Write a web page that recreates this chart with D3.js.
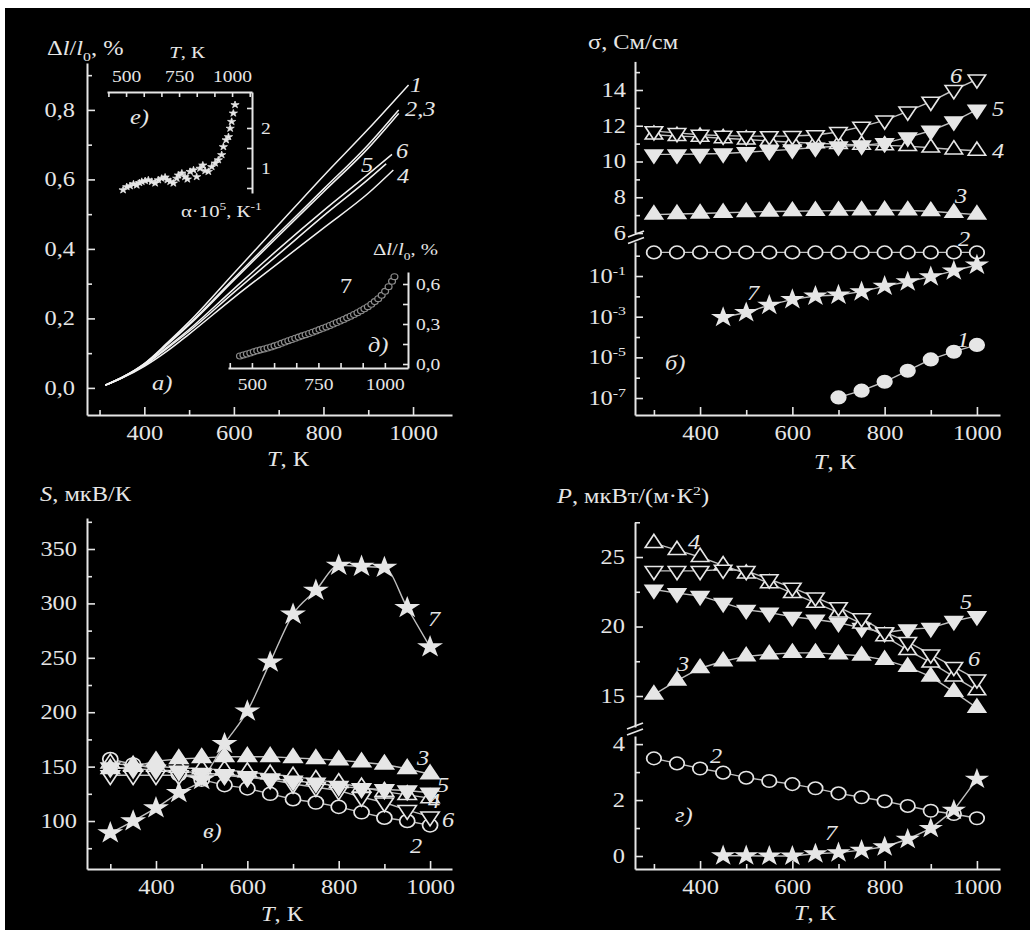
<!DOCTYPE html>
<html><head><meta charset="utf-8">
<script src="https://cdn.jsdelivr.net/npm/d3@7"></script>
<style>html,body{margin:0;padding:0;background:#fff;}svg{display:block;}</style>
</head><body>
<script>
// ---------------- DATA ----------------
const T = [300,350,400,450,500,550,600,650,700,750,800,850,900,950,1000];
const T7 = [450,500,550,600,650,700,750,800,850,900,950,1000];
const T1 = [700,750,800,850,900,950,1000];

// panel a) dilatometric curves  Δl/l0, %
const a1T = [313,350,400,450,500,600,700,800,900,990];
const a1V = [0.008,0.03,0.07,0.128,0.19,0.33,0.47,0.61,0.745,0.872];
const a2T = [313,350,400,450,500,600,700,800,900,968];
const a2V = [0.008,0.03,0.069,0.125,0.184,0.315,0.445,0.572,0.7,0.80];
const a3V = [0.008,0.03,0.068,0.123,0.181,0.31,0.438,0.564,0.69,0.79];
const a6T = [313,350,400,450,500,600,700,800,900,953];
const a6V = [0.008,0.029,0.066,0.116,0.168,0.285,0.4,0.51,0.615,0.672];
const a5T = [313,350,400,450,500,600,700,800,900,940];
const a5V = [0.008,0.029,0.065,0.113,0.163,0.275,0.385,0.495,0.6,0.645];
const a4T = [313,350,400,450,500,600,700,800,900,956];
const a4V = [0.008,0.028,0.062,0.105,0.155,0.26,0.36,0.46,0.56,0.627];

// inset e) alpha*10^5
const eT = [486,503,519,535,550,563,574,590,605,621,637,652,668,684,695,708,723,739,747,763,778,789,802,818,833,849,862,873,888,904,920,935,951,959,972,983,991,998,1006,1014];
const eA = [0.45,0.53,0.55,0.60,0.57,0.63,0.66,0.68,0.70,0.66,0.62,0.70,0.74,0.77,0.70,0.66,0.62,0.74,0.82,0.87,0.78,0.72,0.91,0.95,0.78,0.99,1.07,0.93,0.91,1.03,1.12,1.20,1.33,1.53,1.70,1.78,1.99,2.16,2.37,2.58];

// inset д) sample 7 dilatometry
const dT = [455,468,481,494,507,520,533,546,559,572,585,598,611,624,637,650,663,676,689,702,715,728,741,754,767,780,793,806,819,832,845,858,871,884,897,910,923,936,949,962,975,988,1001,1014,1027,1036];
const dV = [0.060,0.068,0.075,0.083,0.092,0.099,0.106,0.113,0.120,0.128,0.136,0.145,0.155,0.165,0.175,0.184,0.193,0.202,0.211,0.220,0.229,0.238,0.248,0.258,0.268,0.278,0.289,0.300,0.311,0.322,0.334,0.346,0.358,0.371,0.385,0.399,0.414,0.430,0.448,0.468,0.490,0.515,0.545,0.580,0.620,0.655];

// panel б) conductivity σ, См/см
const sig1 = [1.07e-7,2.3e-7,6.3e-7,2.2e-6,7.9e-6,1.9e-5,4.1e-5];
const sig2 = [1.45,1.45,1.45,1.45,1.45,1.45,1.45,1.45,1.45,1.45,1.45,1.45,1.45,1.45,1.45];
const sig3 = [7.03,7.06,7.09,7.13,7.17,7.2,7.22,7.24,7.25,7.26,7.27,7.26,7.22,7.12,7.03];
const sig4 = [11.5,11.42,11.38,11.3,11.23,11.15,11.08,11.02,10.97,10.93,10.9,10.86,10.77,10.67,10.6];
const sig5 = [10.4,10.4,10.42,10.45,10.52,10.6,10.68,10.78,10.85,10.9,11.03,11.35,11.72,12.25,12.9];
const sig6 = [11.7,11.6,11.5,11.45,11.42,11.42,11.43,11.48,11.65,11.95,12.3,12.8,13.35,14.0,14.6];
const sig7 = [9.3e-4,1.6e-3,3.7e-3,7.1e-3,1.04e-2,1.17e-2,1.7e-2,3.2e-2,5.2e-2,9.3e-2,0.18,0.35];

// panel в) Seebeck S, мкВ/К
const S2 = [157,152,148,143,138,133,130,125,120,117,113,108,103,100,96];
const S3 = [148,150,155,157,158,159,159,159,158,157,156,154,152,148,143];
const S4 = [153,151,150,149,148,147,145,143,141,138,135,131,127,124,121];
const S5 = [149,148,147,146,144,143,141,139,137,135,132,130,129,128,126];
const S6 = [142,142,142,142,142,142,140,138,134,131,128,122,117,110,104];
const S7 = [89,100,112,126,138,171,201,246,290,312,335,334,333,296,260];

// panel г) power factor P, мкВт/(м·К²)
const P2 = [3.49,3.31,3.13,2.98,2.8,2.68,2.57,2.42,2.24,2.1,1.96,1.79,1.62,1.5,1.35];
const P3 = [15.1,16.1,17.0,17.5,17.85,18.0,18.1,18.1,18.0,17.9,17.6,17.1,16.4,15.3,14.15];
const P4 = [26.0,25.5,25.0,24.4,23.8,23.1,22.4,21.7,21.0,20.2,19.3,18.3,17.4,16.4,15.4];
const P5 = [22.66,22.4,22.2,21.7,21.2,21.0,20.7,20.5,20.27,19.9,19.55,19.8,19.9,20.4,20.75];
const P6 = [24.0,24.0,24.0,24.1,24.0,23.4,22.8,22.1,21.4,20.6,19.6,18.9,18.0,17.1,16.2];
const P7 = [0.01,0.01,0.0,0.0,0.08,0.12,0.21,0.33,0.6,0.99,1.64,2.75];

// tick values
const xMajor = [400,600,800,1000], xMinor = [300,500,700,900];
const aYMajor = [0,0.2,0.4,0.6,0.8], aYMinor = [0.1,0.3,0.5,0.7,0.9];
const insetXMajor = [500,750,1000], insetXMinor = [416.67,583.33,666.67,833.33,916.67,1083.33];
const eYMajor = [1,2], eYMinor = [0.5,1.5,2.5];
const dYMajor = [0,0.3,0.6], dYMinor = [0.15,0.45];
const bUMajor = [6,8,10,12,14], bUMinor = [7,9,11,13,15];
const bLMajor = [1e-1,1e-3,1e-5,1e-7], bLMinor = [1,1e-2,1e-4,1e-6];
const cYMajor = [100,150,200,250,300,350], cYMinor = [75,125,175,225,275,325,375];
const gUMajor = [15,20,25], gUMinor = [17.5,22.5,27.5];
const gLMajor = [0,2,4], gLMinor = [1,3];

// ---------------- DRAWING ----------------
const W = 1030, H = 933;
const FG = "#e6e6e6", LN = "#c0c0c0";
const SERIF = "'Liberation Serif','Times New Roman',serif";
const SX = 1.22, MSX = 1.15;

const svg = d3.select("body").append("svg").attr("width", W).attr("height", H);
svg.append("rect").attr("width", W).attr("height", H).attr("fill", "#fff");
svg.append("rect").attr("x", 5).attr("y", 8).attr("width", 1025).attr("height", 922).attr("fill", "#000");

function rich(t, parts, size) {
  let shift = 0;
  parts.forEach(p => {
    const s = typeof p === "string" ? p : p[0];
    const st = typeof p === "string" ? "" : p[1];
    const ts = t.append("tspan").text(s);
    let target = 0;
    if (st.includes("sub")) { target = size * 0.28; ts.attr("font-size", size * 0.65); }
    if (st.includes("sup")) { target = -size * 0.42; ts.attr("font-size", size * 0.65); }
    if (st.includes("i")) ts.attr("font-style", "italic");
    if (target - shift !== 0) ts.attr("dy", target - shift);
    shift = target;
  });
}
function label(x, y, parts, opt = {}) {
  const size = opt.size || 20;
  const t = svg.append("text")
    .attr("transform", `translate(${x},${y}) scale(${SX},1)`)
    .attr("font-family", SERIF).attr("font-size", size).attr("fill", FG)
    .attr("text-anchor", opt.anchor || "start");
  if (opt.italic) t.attr("font-style", "italic");
  rich(t, typeof parts === "string" ? [parts] : parts, size);
  return t;
}
const fmtInt = d3.format("d");
const fmtC1 = d => d3.format(".1f")(d).replace(".", ",");

function drawAxis(o) {
  const size = o.size || 20, tick = o.tick || 8, mtick = o.mtick || 5;
  const pad = o.vertical ? (o.pad || 10) / SX : (o.pad || 11);
  const g = svg.append("g").attr("transform", `translate(${o.at[0]},${o.at[1]})`);
  g.call(o.gen(o.scale).tickValues(o.major).tickSize(-tick).tickSizeOuter(0)
    .tickPadding(pad).tickFormat(o.custom ? () => "" : (o.fmt || fmtInt)));
  g.select(".domain").attr("stroke", FG).attr("stroke-width", 2);
  g.selectAll(".tick line").attr("stroke", FG).attr("stroke-width", 1.6);
  g.selectAll(".tick text").attr("font-family", SERIF).attr("font-size", size)
    .attr("fill", FG).attr("transform", `scale(${SX},1)`);
  if (o.custom) {
    g.selectAll(".tick").each(function (d) {
      const t = d3.select(this).append("text")
        .attr("transform", `translate(${-(o.pad || 10)},0) scale(${SX},1)`)
        .attr("dy", "0.32em").attr("text-anchor", "end")
        .attr("font-family", SERIF).attr("font-size", size).attr("fill", FG);
      rich(t, o.custom(d), size);
    });
  }
  if (o.minor && o.minor.length) {
    const g2 = svg.append("g").attr("transform", `translate(${o.at[0]},${o.at[1]})`);
    g2.call(o.gen(o.scale).tickValues(o.minor).tickSize(-mtick).tickSizeOuter(0).tickFormat(() => ""));
    g2.select(".domain").remove();
    g2.selectAll(".tick line").attr("stroke", FG).attr("stroke-width", 1.6);
  }
  return g;
}

function breakMark(x, y1, y2) {
  [y1, y2].forEach(y => {
    svg.append("line").attr("x1", x - 8).attr("y1", y + 3).attr("x2", x + 8).attr("y2", y - 3)
      .attr("stroke", FG).attr("stroke-width", 1.8);
  });
}

const SYM = {
  circle: d3.symbolCircle, tri: d3.symbolTriangle, star: d3.symbolStar
};
function drawLine(x, y, xs, ys, opt = {}) {
  const line = d3.line().x((d, i) => x(xs[i])).y((d, i) => y(ys[i])).curve(opt.curve || d3.curveLinear);
  svg.append("path").attr("d", line(ys)).attr("fill", "none")
    .attr("stroke", opt.color || LN).attr("stroke-width", opt.width || 1.4);
}
function drawMarkers(x, y, xs, ys, kind, opt = {}) {
  const gen = d3.symbol().type(SYM[kind]).size(opt.size || 85);
  const rot = opt.down ? " rotate(180)" : "";
  svg.append("g").selectAll("path").data(ys).join("path")
    .attr("d", gen)
    .attr("transform", (d, i) => `translate(${x(xs[i])},${y(d)}) scale(${MSX},1)${rot}`)
    .attr("fill", opt.filled ? FG : "#000")
    .attr("stroke", opt.stroke || FG)
    .attr("stroke-width", opt.sw || 1.5);
}

// ===== Panel a) =====
const xA = d3.scaleLinear().domain([272, 1087]).range([87, 452]);
const yA = d3.scaleLinear().domain([-0.078, 0.935]).range([415, 63]);
drawAxis({gen: d3.axisBottom, scale: xA, at: [0, 415], major: xMajor, minor: xMinor});
drawAxis({gen: d3.axisLeft, scale: yA, at: [87, 0], major: aYMajor, minor: aYMinor, fmt: fmtC1, vertical: true, pad: 12});
[[a1T, a1V], [a2T, a2V], [a2T, a3V], [a6T, a6V], [a5T, a5V], [a4T, a4V]].forEach(([xs, ys]) =>
  drawLine(xA, yA, xs, ys, {curve: d3.curveMonotoneX, color: "#f2f2f2", width: 1.5}));
label(47, 55, ["Δ", ["l", "i"], "/", ["l", "i"], ["0", "sub"], ", %"]);
label(288, 466, [["T", "i"], ", К"], {anchor: "middle"});
label(152, 390, "а)", {italic: true});
label(410, 92, "1", {italic: true});
label(405, 116, "2,3", {italic: true});
label(396, 158, "6", {italic: true});
label(361, 172, "5", {italic: true});
label(397, 183, "4", {italic: true});

// inset e)
const xE = d3.scaleLinear().domain([410, 1094]).range([107, 252]);
const yE = d3.scaleLinear().domain([0.375, 2.9]).range([193, 92]);
drawAxis({gen: d3.axisTop, scale: xE, at: [0, 92], major: insetXMajor, minor: insetXMinor, size: 16, pad: 10, tick: 5, mtick: 5});
drawAxis({gen: d3.axisRight, scale: yE, at: [252, 0], major: eYMajor, minor: eYMinor, size: 16, pad: 9, vertical: true, tick: 5, mtick: 5});
drawMarkers(xE, yE, eT, eA, "star", {filled: true, size: 16, sw: 0.7});
label(187, 58, [["T", "i"], ", К"], {anchor: "middle", size: 17});
label(130, 124, "е)", {italic: true});
label(181, 217, ["α·10", ["5", "sup"], ", К", ["-1", "sup"]], {size: 17});

// inset д)
const xI = d3.scaleLinear().domain([410, 1087]).range([228, 408]);
const yI = d3.scaleLinear().domain([-0.03, 0.69]).range([368, 272]);
drawAxis({gen: d3.axisBottom, scale: xI, at: [0, 368], major: insetXMajor, minor: insetXMinor.slice(0, 5), size: 16, pad: 11, tick: 5, mtick: 5});
drawAxis({gen: d3.axisRight, scale: yI, at: [408, 0], major: dYMajor, minor: dYMinor, fmt: fmtC1, size: 16, pad: 8, vertical: true, tick: 5, mtick: 5});
drawMarkers(xI, yI, dT, dV, "circle", {size: 28, stroke: "#8c8c8c", sw: 1.1});
label(373, 255, ["Δ", ["l", "i"], "/", ["l", "i"], ["0", "sub"], ", %"], {size: 17});
label(340, 293, "7");
label(368, 352, "д)", {italic: true});

// ===== Panel б) =====
const xB = d3.scaleLinear().domain([259, 1050]).range([635, 1000]);
const yBu = d3.scaleLinear().domain([6, 15.6]).range([233, 61.4]);
const yBl = d3.scaleLog().domain([1.46e-8, 4.72]).range([415, 242]);
drawAxis({gen: d3.axisBottom, scale: xB, at: [0, 415], major: xMajor, minor: xMinor});
drawAxis({gen: d3.axisLeft, scale: yBu, at: [635, 0], major: bUMajor, minor: bUMinor, vertical: true, pad: 9});
drawAxis({gen: d3.axisLeft, scale: yBl, at: [635, 0], major: bLMajor, minor: bLMinor, vertical: true, pad: 9,
  custom: d => ["10", [String(Math.round(Math.log10(d))), "sup"]]});
breakMark(636, 234, 240.5);

drawLine(xB, yBl, T1, sig1);
drawLine(xB, yBl, T, sig2);
drawLine(xB, yBu, T, sig3);
drawLine(xB, yBu, T, sig4);
drawLine(xB, yBu, T, sig5);
drawLine(xB, yBu, T, sig6);
drawLine(xB, yBl, T7, sig7);
drawMarkers(xB, yBl, T1, sig1, "circle", {filled: true, size: 125});
drawMarkers(xB, yBl, T, sig2, "circle", {size: 125});
drawMarkers(xB, yBu, T, sig3, "tri", {filled: true, size: 100});
drawMarkers(xB, yBu, T, sig4, "tri", {size: 100});
drawMarkers(xB, yBu, T, sig5, "tri", {filled: true, down: true, size: 100});
drawMarkers(xB, yBu, T, sig6, "tri", {down: true, size: 100});
drawMarkers(xB, yBl, T7, sig7, "star", {filled: true, size: 85});
label(588, 49, "σ, См/см");
label(835, 469, [["T", "i"], ", К"], {anchor: "middle"});
label(950, 83, "6", {italic: true});
label(992, 116, "5", {italic: true});
label(992, 158, "4", {italic: true});
label(955, 203, "3", {italic: true});
label(958, 246, "2", {italic: true});
label(747, 300, "7", {italic: true});
label(957, 347, "1", {italic: true});
label(665, 370, "б)", {italic: true});

// ===== Panel в) =====
const xC = d3.scaleLinear().domain([249, 1048]).range([87, 452]);
const yC = d3.scaleLinear().domain([55.9, 378.5]).range([869, 518]);
drawAxis({gen: d3.axisBottom, scale: xC, at: [0, 869], major: xMajor, minor: xMinor});
drawAxis({gen: d3.axisLeft, scale: yC, at: [87, 0], major: cYMajor, minor: cYMinor, vertical: true, pad: 10});
drawLine(xC, yC, T, S2);
drawLine(xC, yC, T, S3);
drawLine(xC, yC, T, S4);
drawLine(xC, yC, T, S5);
drawLine(xC, yC, T, S6);
drawLine(xC, yC, T, S7, {curve: d3.curveMonotoneX});
drawMarkers(xC, yC, T, S2, "circle", {size: 135});
drawMarkers(xC, yC, T, S6, "tri", {down: true, size: 110});
drawMarkers(xC, yC, T, S4, "tri", {size: 110});
drawMarkers(xC, yC, T, S5, "tri", {filled: true, down: true, size: 110});
drawMarkers(xC, yC, T, S3, "tri", {filled: true, size: 110});
drawMarkers(xC, yC, T, S7, "star", {filled: true, size: 100});
label(40, 501, [["S", "i"], ", мкВ/К"]);
label(282, 921, [["T", "i"], ", К"], {anchor: "middle"});
label(417, 765, "3", {italic: true});
label(437, 792, "5", {italic: true});
label(428, 808, "4", {italic: true});
label(442, 827, "6", {italic: true});
label(410, 853, "2", {italic: true});
label(428, 626, "7", {italic: true});
label(203, 838, "в)", {italic: true});

// ===== Panel г) =====
const xG = d3.scaleLinear().domain([259, 1050]).range([635, 1000]);
const yGu = d3.scaleLinear().domain([12.77, 27.52]).range([727, 522]);
const yGl = d3.scaleLinear().domain([-0.464, 4.29]).range([869, 736]);
drawAxis({gen: d3.axisBottom, scale: xG, at: [0, 869], major: xMajor, minor: xMinor});
drawAxis({gen: d3.axisLeft, scale: yGu, at: [635, 0], major: gUMajor, minor: gUMinor, vertical: true, pad: 10});
drawAxis({gen: d3.axisLeft, scale: yGl, at: [635, 0], major: gLMajor, minor: gLMinor, vertical: true, pad: 10});
breakMark(635, 726, 732);
drawLine(xG, yGl, T, P2);
drawLine(xG, yGu, T, P3);
drawLine(xG, yGu, T, P4);
drawLine(xG, yGu, T, P5);
drawLine(xG, yGu, T, P6);
drawLine(xG, yGl, T7, P7);
drawMarkers(xG, yGl, T, P2, "circle", {size: 125});
drawMarkers(xG, yGu, T, P3, "tri", {filled: true, size: 100});
drawMarkers(xG, yGu, T, P5, "tri", {filled: true, down: true, size: 100});
drawMarkers(xG, yGu, T, P4, "tri", {size: 100});
drawMarkers(xG, yGu, T, P6, "tri", {down: true, size: 100});
drawMarkers(xG, yGl, T7, P7, "star", {filled: true, size: 85});
label(557, 503, [["P", "i"], ", мкВт/(м·К", ["2", "sup"], ")"]);
label(815, 920, [["T", "i"], ", К"], {anchor: "middle"});
label(688, 549, "4", {italic: true});
label(960, 609, "5", {italic: true});
label(968, 666, "6", {italic: true});
label(677, 671, "3", {italic: true});
label(710, 763, "2", {italic: true});
label(675, 822, "г)", {italic: true});
label(825, 840, "7", {italic: true});
</script>
</body></html>
